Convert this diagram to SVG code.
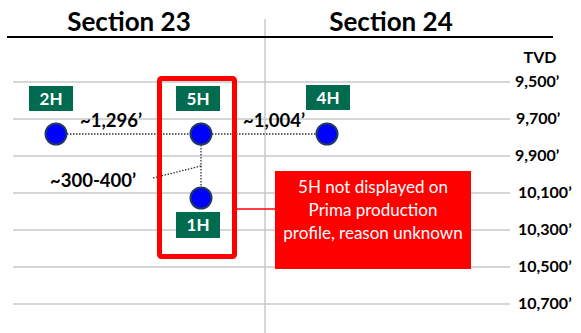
<svg xmlns="http://www.w3.org/2000/svg" width="581" height="333" viewBox="0 0 581 333">
<style>
text{font-family:Lato,"Liberation Sans",sans-serif;}
.grid{stroke:#c8c8c8;stroke-width:1.5;}
.hdr{font-size:26px;font-weight:bold;fill:#000;text-anchor:middle;}
.tvd{font-size:16px;font-weight:bold;fill:#000;}
.dist{font-size:18.5px;font-weight:bold;fill:#000;}
.tag{fill:#006B4E;}
.tagt{font-size:17px;font-weight:bold;fill:#fff;text-anchor:middle;}
.well{fill:#0000ff;stroke:#1f3864;stroke-width:2;}
.dot{stroke:#333;stroke-width:1.3;stroke-dasharray:1.5 1.5;fill:none;}
.call{font-size:17px;fill:#fff;text-anchor:middle;}
</style>
<rect width="581" height="333" fill="#fff"/>
<g id="grid">
<line class="grid" x1="265" y1="19" x2="265" y2="333"/>
<line class="grid" x1="13" y1="82" x2="510" y2="82"/>
<line class="grid" x1="13" y1="119" x2="510" y2="119"/>
<line class="grid" x1="13" y1="156" x2="510" y2="156"/>
<line class="grid" x1="13" y1="193" x2="510" y2="193"/>
<line class="grid" x1="13" y1="230" x2="510" y2="230"/>
<line class="grid" x1="13" y1="267" x2="510" y2="267"/>
<line class="grid" x1="13" y1="304" x2="510" y2="304"/>
<line x1="7" y1="37" x2="553" y2="37" stroke="#000" stroke-width="2"/>
</g>
<g id="headers">
<text class="hdr" x="129" y="31">Section 23</text>
<text class="hdr" x="391" y="31">Section 24</text>
</g>
<g id="depth-labels">
<text class="tvd" x="540" y="63" text-anchor="middle">TVD</text>
<text class="tvd" x="515" y="87">9,500’</text>
<text class="tvd" x="516" y="124">9,700’</text>
<text class="tvd" x="515" y="161">9,900’</text>
<text class="tvd" x="518" y="198">10,100’</text>
<text class="tvd" x="518" y="235">10,300’</text>
<text class="tvd" x="518" y="272">10,500’</text>
<text class="tvd" x="518" y="309">10,700’</text>
</g>
<g id="connectors">
<line class="dot" x1="67" y1="134" x2="190" y2="134"/>
<line class="dot" x1="212" y1="134" x2="316" y2="134"/>
<line class="dot" x1="201" y1="145" x2="201" y2="187"/>
<line class="dot" x1="201" y1="166" x2="153" y2="178"/>
<line x1="236" y1="209" x2="275" y2="209" stroke="#ff0000" stroke-width="1.5"/>
</g>
<g id="highlight-5H">
<rect x="159.5" y="78.5" width="75" height="178" rx="2" fill="none" stroke="#ff0000" stroke-width="5"/>
</g>
<g id="dist-labels">
<text class="dist" x="80" y="127">~1,296’</text>
<text class="dist" x="243" y="127">~1,004’</text>
<text class="dist" x="50" y="187">~300-400’</text>
</g>
<g id="well-2H">
<rect class="tag" x="29" y="86" width="44" height="25"/>
<text class="tagt" x="51" y="104.5">2H</text>
<circle class="well" cx="56" cy="134" r="10.5"/>
</g>
<g id="well-5H">
<rect class="tag" x="176" y="86" width="44" height="25"/>
<text class="tagt" x="198" y="104.5">5H</text>
<circle class="well" cx="201" cy="134" r="10.5"/>
</g>
<g id="well-4H">
<rect class="tag" x="306" y="85" width="44" height="25"/>
<text class="tagt" x="328" y="103.5">4H</text>
<circle class="well" cx="327" cy="134" r="10.5"/>
</g>
<g id="well-1H">
<rect class="tag" x="176" y="212" width="44" height="26"/>
<text class="tagt" x="198" y="231">1H</text>
<circle class="well" cx="201" cy="198" r="10.5"/>
</g>
<g id="callout">
<rect x="275" y="171" width="196" height="98" fill="#ff0000"/>
<text class="call" x="373" y="193">5H not displayed on</text>
<text class="call" x="373" y="216">Prima production</text>
<text class="call" x="373" y="239">profile, reason unknown</text>
</g>
</svg>
